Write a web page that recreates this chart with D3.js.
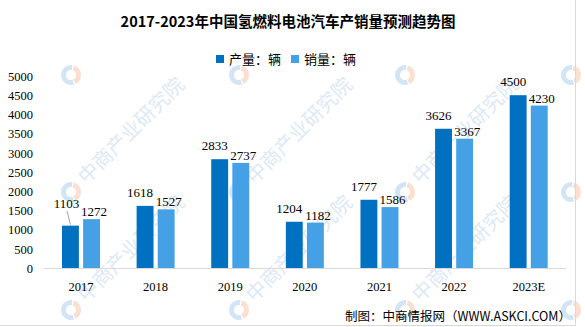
<!DOCTYPE html>
<html>
<head>
<meta charset="utf-8">
<script src="https://cdn.jsdelivr.net/npm/d3@7"></script>
<style>
html,body{margin:0;padding:0;background:#fff;}
svg{display:block;}
</style>
</head>
<body>
<svg id="chart" width="585" height="327"></svg>
<script>
const title = "2017-2023年中国氢燃料电池汽车产销量预测趋势图";
const categories = ["2017","2018","2019","2020","2021","2022","2023E"];
const seriesNames = ["产量：辆","销量：辆"];
const production = [1103,1618,2833,1204,1777,3626,4500];
const sales = [1272,1527,2737,1182,1586,3367,4230];
const yTicks = [0,500,1000,1500,2000,2500,3000,3500,4000,4500,5000];
const source = "制图：中商情报网（WWW.ASKCI.COM）";
const colors = ["#0070C0","#46A0E6"];

const svg = d3.select("#chart");

// watermarks
const wm = svg.append("g").attr("class","watermark");
const wmX = [71,239,405,571], wmY = [75,192,310];
wmY.forEach((cy,ri) => wmX.forEach((cx,ci) => {
  const g = wm.append("g").attr("transform",`translate(${cx},${cy})`);
  const arc = d3.arc().innerRadius(5).outerRadius(10);
  g.append("path").attr("d", arc({startAngle: Math.PI*0.9, endAngle: Math.PI*2.05})).attr("fill","#d3e5f4");
  g.append("path").attr("d", arc({startAngle: Math.PI*0.1, endAngle: Math.PI*0.85})).attr("fill","#fbe0d2");
  if (ri > 0 && ci < 3) {
    g.append("text").attr("transform","rotate(-45) translate(16,6)")
      .attr("font-family","'Noto Sans CJK SC'").attr("font-size",20)
      .attr("fill","#dde9f5").text("中商产业研究院");
  }
}));

// border
svg.append("line").attr("x1",575.5).attr("x2",575.5).attr("y1",0).attr("y2",325.5).attr("stroke","#d9d9d9");
svg.append("line").attr("x1",0).attr("x2",575.5).attr("y1",325.5).attr("y2",325.5).attr("stroke","#d9d9d9");

// title
svg.append("text").attr("x",288).attr("y",27).attr("text-anchor","middle")
  .attr("font-family","'Noto Sans CJK SC'").attr("font-weight","bold").attr("font-size",14.5)
  .attr("fill","#000").text(title);

// legend
const legX = [216, 291];
seriesNames.forEach((s,i) => {
  svg.append("rect").attr("x",legX[i]).attr("y",55).attr("width",8).attr("height",8).attr("fill",colors[i]);
  svg.append("text").attr("x",legX[i]+13).attr("y",64).attr("font-family","'Noto Sans CJK SC'")
    .attr("font-size",13).attr("fill","#000").text(s);
});

// scales
const x0 = d3.scaleBand().domain(categories).range([43.7,566]).paddingInner(0).paddingOuter(0);
const x1 = d3.scaleBand().domain([0,1]).range([0,38]).paddingInner(0.2);
const y = d3.scaleLinear().domain([0,5000]).range([268,76]);

// y axis labels
const yAxis = d3.axisLeft(y).tickValues(yTicks).tickFormat(d3.format("d")).tickSize(0).tickPadding(0);
const yg = svg.append("g").attr("transform","translate(33,0)").call(yAxis);
yg.select(".domain").remove();
yg.selectAll("text").attr("font-family","'Liberation Serif', serif").attr("font-size",12.5).attr("fill","#000").attr("dy","0.35em");

// x axis
const xAxis = d3.axisBottom(x0).tickSize(0).tickPadding(14);
const xg = svg.append("g").attr("transform","translate(0,268)").call(xAxis);
xg.select(".domain").attr("stroke","#d9d9d9").attr("d","M43.7,0.5H566");
xg.selectAll("text").attr("font-family","'Liberation Serif', serif").attr("font-size",12.5).attr("fill","#000");

// bars
const data = categories.map((c,i) => ({c, v:[production[i], sales[i]]}));
const groups = svg.append("g").selectAll("g").data(data).join("g")
  .attr("transform", d => `translate(${x0(d.c) + x0.bandwidth()/2 - 19},0)`);
groups.selectAll("rect").data(d => d.v.map((v,k)=>({v,k}))).join("rect")
  .attr("x", d => x1(d.k)).attr("width", x1.bandwidth())
  .attr("y", d => y(d.v)).attr("height", d => y(0) - y(d.v))
  .attr("fill", d => colors[d.k]);

// labels
const lblDx = [-5, 2.5], lblDy = [-9, -3];
groups.each(function(d, gi) {
  const g = d3.select(this);
  d.v.forEach((v,k) => {
    const cx = x1(k) + x1.bandwidth()/2;
    let tx = cx + lblDx[k], ty = y(v) + lblDy[k];
    if (gi === 0 && k === 0) {
      tx = cx - 4; ty = y(v) - 18;
      g.append("line").attr("x1", cx - 3.5).attr("y1", ty + 3).attr("x2", cx).attr("y2", y(v) - 1)
        .attr("stroke","#a6a6a6").attr("stroke-width",1);
    }
    g.append("text").attr("x", tx).attr("y", ty).attr("text-anchor","middle")
      .attr("font-family","'Liberation Serif', serif").attr("font-size",13).attr("fill","#000").text(v);
  });
});

// source
svg.append("text").attr("x",571).attr("y",321).attr("text-anchor","end")
  .attr("font-family","'Noto Sans CJK SC'").attr("font-size",12.5).attr("fill","#000").text(source);
</script>
</body>
</html>
